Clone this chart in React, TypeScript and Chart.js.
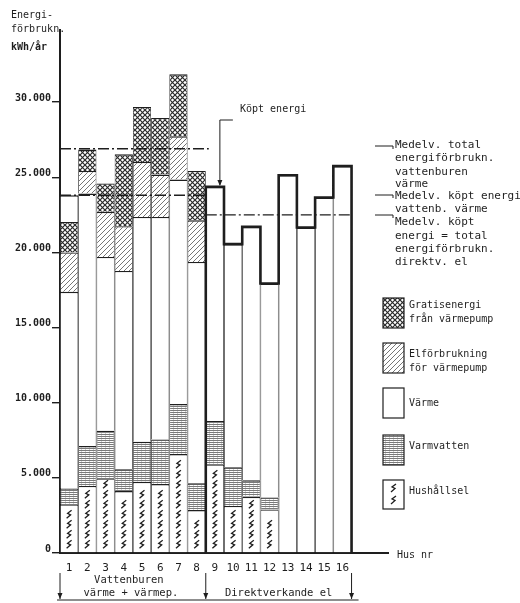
import React, { useEffect, useRef } from "react";
import { Chart, registerables } from "chart.js";

Chart.register(...registerables);

// ---------- data (kWh/år) ----------
const houses = ["1", "2", "3", "4", "5", "6", "7", "8", "9", "10", "11", "12", "13", "14", "15", "16"];
const axisLabels = [...houses, "", ""];
const hushallsel = [3240, 4460, 4970, 4120, 4740, 4590, 6580, 2860, 5900, 3130, 3740, 2900, null, null, null, null];
const varmvatten = [1060, 2660, 3160, 1450, 2660, 2970, 3330, 1780, 2880, 2570, 1100, 800, null, null, null, null];
const varme = [13080, 16800, 11570, 13200, 14960, 14800, 14940, 14730, 15580, 14850, 16860, 14230, 25140, 21660, 23650, 25740];
const elVarmepump = [2620, 1500, 3000, 2980, 3660, 2820, 2880, 2770, null, null, null, null, null, null, null, null];
const gratisenergi = [2030, 1430, 1890, 4780, 3660, 3770, 4120, 3280, null, null, null, null, null, null, null, null];
const varmeOvre = [1770, null, null, null, null, null, null, null, null, null, null, null, null, null, null, null];
const yTicks = [0, 5000, 10000, 15000, 20000, 25000, 30000];
const medelTotalVattenburen = 26900;
const medelKoptVattenburen = 23800;
const medelDirektEl = 22500;
const yMax = 34800;

const FONT = '"DejaVu Sans Mono", "Liberation Mono", monospace';
const INK = "#1e1e1e";

type Pats = { cross: CanvasPattern; hatch: CanvasPattern; water: CanvasPattern };

function makePatterns(main: CanvasRenderingContext2D): Pats {
  const mk = (w: number, h: number, draw: (g: CanvasRenderingContext2D) => void) => {
    const c = document.createElement("canvas");
    c.width = w;
    c.height = h;
    const g = c.getContext("2d")!;
    g.fillStyle = "#fff";
    g.fillRect(0, 0, w, h);
    draw(g);
    return main.createPattern(c, "repeat")!;
  };
  const cross = mk(5, 5, (g) => {
    g.strokeStyle = "#2a2a2a";
    g.lineWidth = 1.2;
    g.beginPath();
    g.moveTo(-1, -1); g.lineTo(6, 6);
    g.moveTo(-1, 6); g.lineTo(6, -1);
    g.stroke();
  });
  const hatch = mk(5, 5, (g) => {
    g.strokeStyle = "#666";
    g.lineWidth = 0.9;
    g.beginPath();
    g.moveTo(-1, 6); g.lineTo(6, -1);
    g.moveTo(-1, 1); g.lineTo(1, -1);
    g.moveTo(4, 6); g.lineTo(6, 4);
    g.stroke();
  });
  const water = mk(4, 2, (g) => {
    g.fillStyle = "#7a7a7a";
    g.fillRect(0, 0, 4, 1);
    g.fillStyle = "#d0d0d0";
    g.fillRect(1, 1, 1, 1);
  });
  return { cross, hatch, water };
}

function drawBolt(ctx: CanvasRenderingContext2D, x: number, y: number) {
  ctx.beginPath();
  ctx.moveTo(x + 2.5, y - 4);
  ctx.lineTo(x - 1.5, y - 1);
  ctx.lineTo(x + 1.5, y + 0.5);
  ctx.lineTo(x - 2.5, y + 4);
  ctx.stroke();
}

function arrowDown(ctx: CanvasRenderingContext2D, x: number, y: number) {
  ctx.beginPath();
  ctx.moveTo(x - 2.5, y - 6);
  ctx.lineTo(x + 2.5, y - 6);
  ctx.lineTo(x, y);
  ctx.closePath();
  ctx.fill();
}

export default function App() {
  const ref = useRef<HTMLCanvasElement>(null);

  useEffect(() => {
    const canvas = ref.current!;
    const pats = makePatterns(canvas.getContext("2d")!);

    const overlay = {
      id: "overlay",
      afterDatasetsDraw(chart: any) {
        const ctx: CanvasRenderingContext2D = chart.ctx;
        const ys = chart.scales.y;
        const base = ys.getPixelForValue(0);
        const mv = chart.getDatasetMeta(2);
        const edge = (i: number, side: number) => {
          const p = mv.data[i].getProps(["x", "width"], true);
          return p.x + (side * p.width) / 2;
        };
        ctx.save();
        ctx.strokeStyle = INK;
        ctx.fillStyle = INK;

        // lightning symbols in Hushållsel
        ctx.lineWidth = 1.3;
        const mh = chart.getDatasetMeta(0);
        mh.data.forEach((el: any, i: number) => {
          if (hushallsel[i] == null) return;
          const p = el.getProps(["x", "y", "base"], true);
          for (let cy = p.base - 8; cy - 5 > p.y; cy -= 10) drawBolt(ctx, p.x, cy);
        });

        // purchased energy outline, direct-electric houses
        ctx.lineWidth = 2.6;
        ctx.beginPath();
        for (let i = 8; i < 16; i++) {
          const p = mv.data[i].getProps(["x", "y", "width"], true);
          const l = p.x - p.width / 2;
          const r = p.x + p.width / 2;
          if (i === 8) ctx.moveTo(l, base);
          ctx.lineTo(l, p.y);
          ctx.lineTo(r, p.y);
          if (i === 15) ctx.lineTo(r, base);
        }
        ctx.stroke();

        // average lines
        ctx.lineWidth = 1.4;
        ctx.setLineDash([11, 3, 2, 3]);
        const hline = (x1: number, x2: number, v: number) => {
          const y = ys.getPixelForValue(v);
          ctx.beginPath();
          ctx.moveTo(x1, y);
          ctx.lineTo(x2, y);
          ctx.stroke();
        };
        hline(edge(0, -1), edge(7, 1) + 3, medelTotalVattenburen);
        hline(edge(0, -1), edge(7, 1), medelKoptVattenburen);
        hline(edge(8, -1), edge(15, 1), medelDirektEl);
        ctx.setLineDash([]);

        // "Köpt energi" pointer
        const p9 = mv.data[8].getProps(["x", "y"], true);
        const ax = p9.x + 5;
        ctx.lineWidth = 1;
        ctx.beginPath();
        ctx.moveTo(ax + 13, 120);
        ctx.lineTo(ax, 120);
        ctx.lineTo(ax, p9.y - 2);
        ctx.stroke();
        arrowDown(ctx, ax, p9.y - 1);
        ctx.font = `10px ${FONT}`;
        ctx.textBaseline = "middle";
        ctx.textAlign = "left";
        ctx.fillText("Köpt energi", 240, 109);

        // right-hand annotations
        ctx.font = `11px ${FONT}`;
        const leader = (y: number) => {
          ctx.beginPath();
          ctx.moveTo(375, y);
          ctx.lineTo(393, y);
          ctx.lineTo(393, y + 3);
          ctx.stroke();
        };
        leader(146);
        leader(195);
        leader(215);
        const ann: [string, number][] = [
          ["Medelv. total", 145],
          ["energiförbrukn.", 158.5],
          ["vattenburen", 172],
          ["värme", 184.5],
          ["Medelv. köpt energi", 196],
          ["vattenb. värme", 209.5],
          ["Medelv. köpt", 222.5],
          ["energi = total", 236],
          ["energiförbrukn.", 249],
          ["direktv. el", 262],
        ];
        ann.forEach(([t, y]) => ctx.fillText(t, 395, y));

        // legend
        ctx.font = `10px ${FONT}`;
        const box = (y: number, h: number, fill: any) => {
          ctx.fillStyle = fill;
          ctx.fillRect(383, y, 21, h);
          ctx.lineWidth = 1.2;
          ctx.strokeStyle = INK;
          ctx.strokeRect(383, y, 21, h);
          ctx.fillStyle = INK;
        };
        box(298, 30, pats.cross);
        ctx.fillText("Gratisenergi", 409, 305);
        ctx.fillText("från värmepump", 409, 319);
        box(343, 30, pats.hatch);
        ctx.fillText("Elförbrukning", 409, 354);
        ctx.fillText("för värmepump", 409, 368);
        box(388, 30, "#fff");
        ctx.fillText("Värme", 409, 403);
        box(435, 30, pats.water);
        ctx.fillText("Varmvatten", 409, 446);
        box(480, 29, "#fff");
        ctx.lineWidth = 1.3;
        drawBolt(ctx, 393.5, 488);
        drawBolt(ctx, 393.5, 500);
        ctx.fillText("Hushållsel", 409, 491);

        // axis titles
        ctx.textAlign = "left";
        ctx.font = `10px ${FONT}`;
        ctx.fillText("Energi-", 11, 15);
        ctx.fillText("förbrukn.", 11, 29);
        ctx.font = `bold 10px ${FONT}`;
        ctx.fillText("kWh/år", 11, 47);
        ctx.font = `10px ${FONT}`;
        ctx.fillText("Hus nr", 397, 555);

        // group brackets
        const gx1 = edge(0, -1);
        const gx2 = edge(8, -1);
        const gx3 = edge(15, 1);
        ctx.lineWidth = 1;
        ctx.beginPath();
        [gx1, gx2, gx3].forEach((x) => {
          ctx.moveTo(x, 573);
          ctx.lineTo(x, 599);
        });
        ctx.moveTo(gx1 - 3, 600);
        ctx.lineTo(gx3 + 7, 600);
        ctx.stroke();
        [gx1, gx2, gx3].forEach((x) => arrowDown(ctx, x, 599));
        ctx.font = `10.5px ${FONT}`;
        ctx.textAlign = "center";
        ctx.fillText("Vattenburen", (gx1 + gx2) / 2 - 4, 580);
        ctx.fillText("värme + värmep.", (gx1 + gx2) / 2 - 2, 593);
        ctx.fillText("Direktverkande el", (gx2 + gx3) / 2, 593);
        ctx.restore();
      },
    };

    const bw = { top: 1.4, left: 0.8, right: 0.8, bottom: 0 };
    const common = {
      borderColor: INK,
      borderWidth: bw,
      borderSkipped: "start",
      inflateAmount: 0,
      barPercentage: 1,
      categoryPercentage: 1,
    };

    const chart = new Chart(canvas, {
      type: "bar",
      data: {
        labels: axisLabels,
        datasets: [
          { label: "Hushållsel", data: hushallsel, backgroundColor: "#fff", ...common },
          { label: "Varmvatten", data: varmvatten, backgroundColor: pats.water, ...common },
          { label: "Värme", data: varme, backgroundColor: "#fff", ...common },
          { label: "Elförbrukning för värmepump", data: elVarmepump, backgroundColor: pats.hatch, ...common },
          { label: "Gratisenergi från värmepump", data: gratisenergi, backgroundColor: pats.cross, ...common },
          { label: "Värme ", data: varmeOvre, backgroundColor: "#fff", ...common },
        ] as any,
      },
      options: {
        animation: false,
        responsive: false,
        maintainAspectRatio: false,
        layout: { padding: { top: 30, right: 132, bottom: 0, left: 0 } },
        plugins: { legend: { display: false }, tooltip: { enabled: false } },
        scales: {
          x: {
            stacked: true,
            grid: { display: false, drawTicks: false },
            border: { display: true, color: INK, width: 2 },
            ticks: {
              color: INK,
              font: { family: FONT, size: 11 },
              padding: 9,
              maxRotation: 0,
              autoSkip: false,
            },
            afterFit: (s: any) => {
              s.height = 50;
            },
          },
          y: {
            stacked: true,
            min: 0,
            max: yMax,
            afterBuildTicks: (axis: any) => {
              axis.ticks = yTicks.map((v) => ({ value: v }));
            },
            ticks: {
              color: INK,
              font: { family: FONT, size: 10, weight: "bold" },
              padding: 1,
              labelOffset: -4,
              callback: (v: any) => (Number(v) === 0 ? "0" : `${Number(v) / 1000}.000`),
            },
            grid: { drawOnChartArea: false, drawTicks: true, tickLength: 8, color: INK, lineWidth: 1.4 },
            border: { display: true, color: INK, width: 2 },
            afterFit: (s: any) => {
              s.width = 60;
            },
          },
        },
      } as any,
      plugins: [overlay],
    });
    return () => chart.destroy();
  }, []);

  return (
    <div style={{ position: "absolute", left: 0, top: 0, width: 520, height: 603, background: "#fff" }}>
      <canvas ref={ref} width={520} height={603} style={{ display: "block" }} />
    </div>
  );
}
